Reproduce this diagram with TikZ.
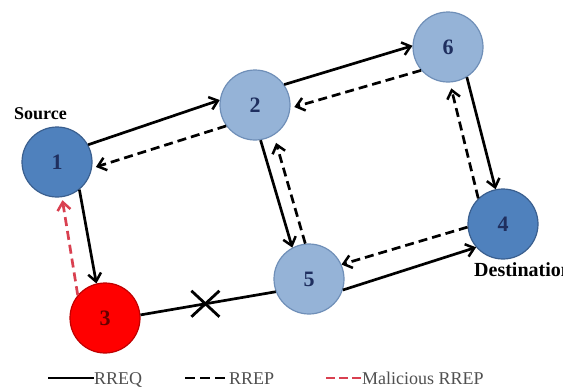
\documentclass[tikz,border=0pt]{standalone}
\usepackage{fontspec}
\setmainfont{Liberation Serif}
\usetikzlibrary{arrows.meta}
\definecolor{darkblue}{HTML}{4F81BD}
\definecolor{darkblueb}{HTML}{3A5F8F}
\definecolor{lightblue}{HTML}{95B3D7}
\definecolor{lightblueb}{HTML}{6F8FB8}
\definecolor{nodered}{HTML}{FF0000}
\definecolor{noderedb}{HTML}{C00000}
\definecolor{navy}{HTML}{1F2F5F}
\definecolor{malred}{HTML}{D94050}
\definecolor{legendgray}{HTML}{505050}
\tikzset{
  netnode/.style={circle, minimum size=70pt, inner sep=0pt, line width=1.2pt,
    font=\fontsize{22}{22}\selectfont\bfseries, text=navy},
  darknode/.style={netnode, fill=darkblue, draw=darkblueb},
  lightnode/.style={netnode, fill=lightblue, draw=lightblueb},
  rednode/.style={netnode, fill=nodered, draw=noderedb, text=black!60!red},
  req/.style={line width=2.7pt, black, -{Straight Barb[length=8pt,width=13pt,line width=2.5pt]}},
  rep/.style={line width=2.7pt, black, dash pattern=on 9pt off 5pt, -{Straight Barb[length=8pt,width=13pt,line width=2.5pt]}},
  malrep/.style={line width=2.7pt, malred, dash pattern=on 9pt off 5pt, -{Straight Barb[length=8pt,width=13pt,line width=2.5pt]}},
  lbl/.style={font=\fontsize{18}{18}\selectfont\bfseries, inner sep=0pt},
  legtext/.style={font=\fontsize{18}{18}\selectfont, text=legendgray, inner sep=0pt, anchor=base west},
}
\begin{document}
\begin{tikzpicture}[x=1pt,y=-1pt]
\useasboundingbox (0,0) rectangle (563,389);
\clip (0,0) rectangle (563,389);
\fill[white] (0,0) rectangle (563,389);

\node[darknode] (n1) at (57,162) {1};
\node[lightnode] (n2) at (255,105) {2};
\node[lightnode] (n6) at (448,47) {6};
\node[darknode] (n4) at (503,224) {4};
\node[lightnode] (n5) at (309,279) {5};
\node[rednode] (n3) at (105,318) {3};

\node[lbl, anchor=base west] (src) at (14,119) {Source};
\node[lbl, anchor=base west, font=\fontsize{20}{20}\selectfont\bfseries] (dst) at (474,276) {Destination};

% RREQ (solid)
\draw[req] (n1.29) -- (n2.172);
\draw[req] (n2.35) -- (n6.178);
\draw[req] (n6.-58) -- (n4.102);
\draw[req] (n2.-81) -- (n5.118);
\draw[req] (n5.-18) -- (n4.221);
\draw[req] (n1.-51) -- (n3.104);

% RREP (dashed)
\draw[rep, shorten >=4pt] (n2.216) -- (n1.-10);
\draw[rep, shorten >=4pt] (n6.221) -- (n2.-5);
\draw[rep, shorten >=6pt] (n4.134) -- (n6.-87);
\draw[rep, shorten >=8pt] (n5.96) -- (n2.-58);
\draw[rep] (n4.185) -- (n5.24);

% malicious RREP
\draw[malrep, shorten >=3pt] (n3.140) -- (n1.-82);

% broken link 3 -- 5
\draw[line width=2.7pt] (n3.5) -- coordinate[pos=0.48] (brk) (n5.201);
\draw[line width=2.8pt] ([shift={(-14,-13)}]brk) -- ([shift={(14,13)}]brk);
\draw[line width=2.8pt] ([shift={(-14,13)}]brk) -- ([shift={(14,-13)}]brk);

% legend
\coordinate (l1a) at (48,378);
\coordinate (l1b) at (94,378);
\draw[line width=2.8pt] (l1a) -- (l1b);
\node[legtext] (t1) at (94,384) {RREQ};
\coordinate (l2a) at (185,378);
\coordinate (l2b) at (229,378);
\draw[line width=2.8pt, dash pattern=on 10pt off 5pt] (l2a) -- (l2b);
\node[legtext] (t2) at (229,384) {RREP};
\coordinate (l3a) at (326,378);
\coordinate (l3b) at (362,378);
\draw[line width=2.8pt, malred, dash pattern=on 9pt off 4pt] (l3a) -- (l3b);
\node[legtext] (t3) at (362,384) {Malicious RREP};
\end{tikzpicture}
\end{document}
